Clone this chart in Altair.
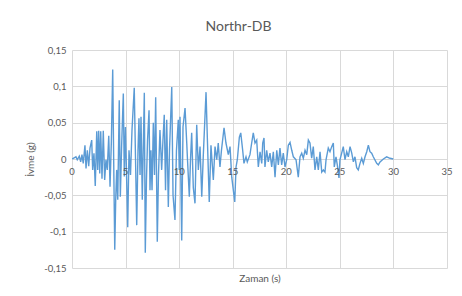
import altair as alt
import pandas as pd

# Time (s) and acceleration (g)
time_s = [
    0.00, 0.12, 0.37, 0.49, 0.68, 0.81, 0.93, 1.05, 1.21, 1.31, 1.43, 1.56, 1.68, 1.84, 1.93,
    2.05, 2.17, 2.31, 2.40, 2.49, 2.59, 2.68, 2.80, 2.92, 3.05, 3.17, 3.29, 3.43, 3.55, 3.67,
    3.80, 3.89, 3.99, 4.08, 4.17, 4.27, 4.41, 4.51, 4.64, 4.79, 4.88, 4.99, 5.20, 5.32, 5.46,
    5.60, 5.81, 5.93, 6.04, 6.16, 6.25, 6.35, 6.44, 6.56, 6.75, 6.84, 6.95, 7.05, 7.19, 7.28,
    7.37, 7.47, 7.59, 7.70, 7.81, 7.96, 8.07, 8.21, 8.37, 8.49, 8.61, 8.73, 8.84, 8.99, 9.10,
    9.31, 9.43, 9.61, 9.75, 9.92, 10.01, 10.08, 10.24, 10.36, 10.55, 10.71, 10.78, 10.95, 11.06, 11.17,
    11.32, 11.48, 11.64, 11.79, 11.95, 12.11, 12.25, 12.51, 12.63, 12.81, 12.97, 13.19, 13.35, 13.51, 13.65,
    13.81, 13.95, 14.19, 14.37, 14.59, 14.75, 14.91, 15.19, 15.31, 15.43, 15.62, 15.75, 15.93, 16.05, 16.24,
    16.36, 16.61, 16.77, 16.92, 17.08, 17.24, 17.39, 17.55, 17.71, 17.80, 17.92, 18.01, 18.17, 18.32, 18.48,
    18.64, 18.79, 18.95, 19.11, 19.26, 19.41, 19.57, 19.72, 19.88, 20.04, 20.19, 20.35, 20.51, 20.66, 20.91,
    21.12, 21.28, 21.44, 21.59, 21.75, 21.91, 22.06, 22.21, 22.37, 22.52, 22.68, 22.84, 22.99, 23.15, 23.31,
    23.46, 23.61, 23.71, 23.92, 24.08, 24.24, 24.39, 24.48, 24.64, 24.76, 24.92, 25.01, 25.17, 25.32, 25.48,
    25.64, 25.79, 25.95, 26.11, 26.26, 26.41, 26.57, 26.72, 26.88, 27.04, 27.19, 27.35, 27.51, 27.66, 27.81,
    27.97, 28.12, 28.44, 28.59, 28.75, 29.06, 29.37, 29.68, 29.99,
]
accel_g = [
    0.000, 0.001, 0.003, -0.001, 0.004, -0.004, 0.006, -0.006, 0.019, -0.013, 0.012, -0.010, 0.015, 0.026, -0.015,
    0.008, -0.037, 0.038, -0.015, 0.039, -0.020, 0.038, -0.027, 0.039, -0.029, -0.001, -0.015, 0.032, -0.038, 0.022,
    0.123, -0.001, -0.125, -0.056, -0.015, -0.056, 0.081, -0.052, 0.022, 0.090, -0.024, 0.044, -0.094, 0.012, -0.022,
    0.040, 0.098, -0.001, -0.091, 0.012, 0.056, -0.022, 0.058, -0.056, 0.091, -0.129, -0.029, 0.026, 0.067, -0.043,
    0.012, -0.043, 0.050, -0.022, 0.085, -0.114, -0.022, 0.040, -0.015, 0.026, 0.061, -0.043, 0.054, -0.066, 0.012,
    0.099, -0.050, -0.084, 0.012, 0.054, -0.015, 0.058, -0.112, 0.044, 0.070, 0.022, -0.001, -0.052, -0.001, 0.036,
    -0.039, -0.061, 0.047, -0.015, 0.017, -0.052, 0.003, 0.092, 0.030, -0.059, 0.019, -0.029, 0.017, -0.001, 0.022,
    -0.011, 0.012, 0.043, 0.022, 0.006, 0.017, -0.025, -0.059, -0.011, -0.001, 0.030, 0.036, 0.012, -0.006, 0.003,
    -0.004, 0.006, 0.022, 0.036, 0.022, 0.026, -0.011, 0.010, -0.006, 0.022, 0.029, -0.011, 0.012, -0.004, 0.008,
    -0.011, 0.010, -0.025, 0.012, -0.008, 0.015, -0.008, 0.008, -0.011, -0.001, 0.019, 0.023, 0.012, 0.003, -0.001,
    -0.025, 0.003, 0.008, 0.001, 0.012, 0.006, 0.026, 0.022, 0.001, 0.017, -0.015, 0.003, -0.015, 0.010, -0.018,
    -0.015, -0.018, -0.001, 0.015, 0.010, 0.017, 0.022, -0.011, 0.003, -0.008, -0.026, -0.001, 0.008, 0.017, -0.001,
    0.010, 0.003, 0.017, 0.008, -0.004, 0.003, -0.012, -0.015, -0.006, 0.001, -0.006, 0.003, 0.010, 0.019, 0.010,
    0.008, 0.003, -0.006, -0.008, -0.004, 0.000, 0.003, 0.001, 0.000,
]
x_ticks = [0, 5, 10, 15, 20, 25, 30, 35]
y_ticks = [-0.15, -0.1, -0.05, 0, 0.05, 0.1, 0.15]

df = pd.DataFrame({"t": time_s, "a": accel_g})
tick_df = pd.DataFrame({"t": x_ticks, "a": [0] * len(x_ticks)})

FONT = "Lato"
GRAY = "#595959"
GRID = "#d9d9d9"

xs = alt.Scale(domain=[0, 35], nice=False, zero=False)
ys = alt.Scale(domain=[-0.15, 0.15], nice=False)

x_axis = alt.Axis(
    values=x_ticks, grid=True, gridColor=GRID, gridWidth=1, labels=False, ticks=False,
    domain=False, title="Zaman (s)", titleFont=FONT, titleFontSize=10, titleColor=GRAY,
    titleFontWeight="normal", titlePadding=5)
y_axis = alt.Axis(
    values=y_ticks, grid=True, gridColor=GRID, gridWidth=1, ticks=False, domain=False,
    labelExpr="replace(datum.value + '', '.', ',')", labelFont=FONT, labelFontSize=9.5,
    labelColor=GRAY, labelPadding=6, title="İvme (g)", titleFont=FONT, titleFontSize=10,
    titleColor=GRAY, titleFontWeight="normal", titlePadding=8)

line = alt.Chart(df).mark_line(color="#5B9BD5", strokeWidth=1.4, clip=True).encode(
    x=alt.X("t:Q", scale=xs, axis=x_axis),
    y=alt.Y("a:Q", scale=ys, axis=y_axis),
)

labels = alt.Chart(tick_df).mark_text(dy=13, font=FONT, fontSize=9.5, color=GRAY).encode(
    x=alt.X("t:Q", scale=xs, axis=x_axis),
    y=alt.Y("a:Q", scale=ys, axis=y_axis),
    text=alt.Text("t:Q"),
)

chart = alt.layer(line, labels).properties(
    width=375,
    height=218,
    autosize=alt.AutoSizeParams(type="none"),
    padding={"left": 64, "top": 42, "right": 7, "bottom": 20},
    title=alt.TitleParams("Northr-DB", font=FONT, fontSize=14, color=GRAY, fontWeight="normal",
                          anchor="middle", dx=-21, dy=2, offset=2, frame="group",
                          baseline="alphabetic"),
).configure_view(stroke=None)

chart.save("out.html", embed_options={"renderer": "svg", "actions": False})
